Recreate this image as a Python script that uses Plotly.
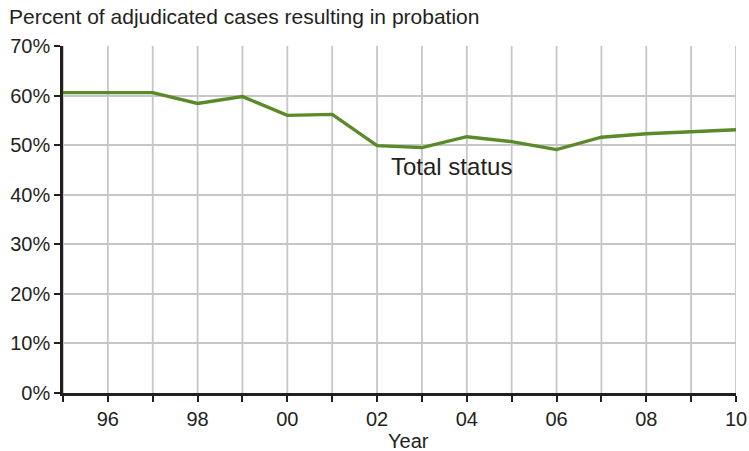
import plotly.graph_objects as go

years = list(range(1995, 2011))
probation_pct = [60.6, 60.6, 60.6, 58.4, 59.8, 56.0, 56.2, 49.9, 49.5, 51.7, 50.7, 49.1, 51.6, 52.3, 52.7, 53.1]
x_tick_vals = [1996, 1998, 2000, 2002, 2004, 2006, 2008, 2010]
x_tick_text = ["96", "98", "00", "02", "04", "06", "08", "10"]
y_tick_vals = [0, 10, 20, 30, 40, 50, 60, 70]
y_tick_text = [f"{v}%" for v in y_tick_vals]

FONT = "Liberation Sans, Arial, Helvetica, sans-serif"
TEXT = "#231f20"
GRID = "#c6c6c9"

fig = go.Figure()
fig.add_trace(go.Scatter(
    x=years, y=probation_pct, mode="lines",
    line=dict(color="#5a8a2a", width=3.4),
    showlegend=False, hoverinfo="x+y",
))

# vertical gridline for every year
for yr in years:
    fig.add_shape(type="line", xref="x", yref="paper", x0=yr, x1=yr, y0=0, y1=1,
                  line=dict(color=GRID, width=1.8), layer="below")

fig.add_annotation(x=2003.65, y=45.7, text="Total status", showarrow=False,
                   font=dict(family=FONT, size=24, color=TEXT))

# x-axis title placed below the tick labels
fig.add_annotation(x=0.514, xref="paper", y=-0.137, yref="paper", yanchor="middle",
                   text="Year", showarrow=False,
                   font=dict(family=FONT, size=20, color=TEXT))

fig.update_layout(
    width=749, height=451,
    margin=dict(l=63, r=13, t=46, b=58),
    paper_bgcolor="white", plot_bgcolor="white",
    font=dict(family=FONT, size=19, color=TEXT),
    title=dict(text="Percent of adjudicated cases resulting in probation",
               x=0.012, xanchor="left", y=0.962, yanchor="middle",
               font=dict(family=FONT, size=21, color=TEXT)),
    xaxis=dict(range=[1995, 2010], tickmode="array", tickvals=x_tick_vals, ticktext=x_tick_text,
               automargin=False, showgrid=False, zeroline=False,
               showline=True, linecolor=TEXT, linewidth=2.5,
               ticks="outside", ticklen=6, tickwidth=1.5, tickcolor=TEXT,
               tickfont=dict(size=20),
               minor=dict(tickvals=years, ticks="outside", ticklen=6, tickwidth=1.5, tickcolor=TEXT)),
    yaxis=dict(range=[0, 70], tickmode="array", tickvals=y_tick_vals, ticktext=y_tick_text,
               automargin=False, showgrid=True, gridcolor=GRID, gridwidth=1.8, zeroline=False,
               showline=True, linecolor=TEXT, linewidth=2.5,
               ticks="outside", ticklen=6, tickwidth=1.5, tickcolor=TEXT,
               tickfont=dict(size=20)),
)

fig.write_html("out.html")
